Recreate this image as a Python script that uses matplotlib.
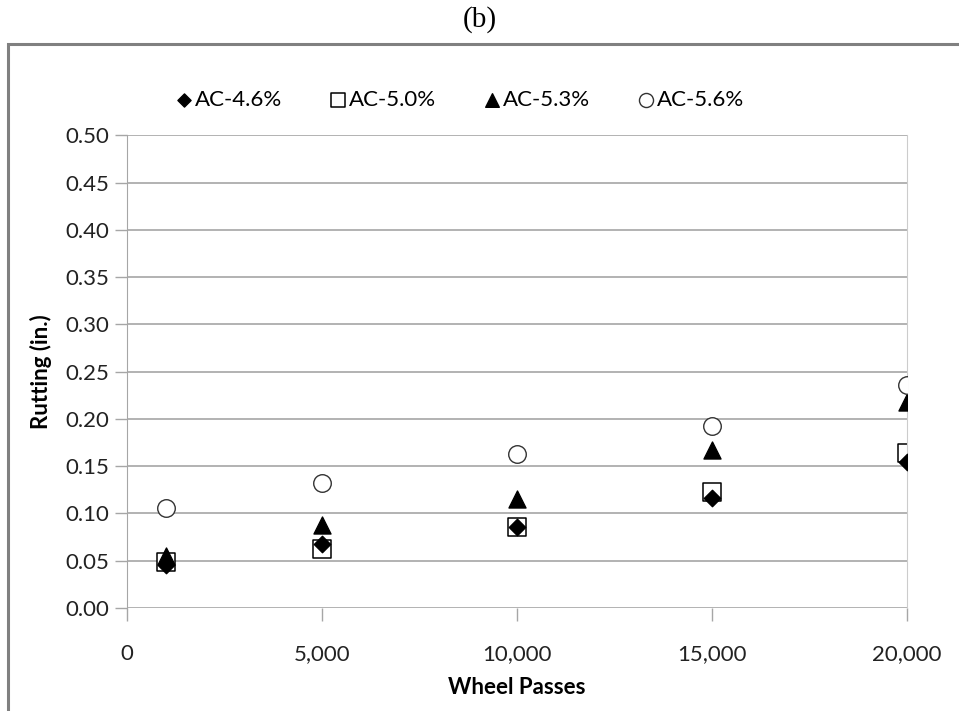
import matplotlib
matplotlib.use("Agg")
import matplotlib.pyplot as plt
from matplotlib.patches import Rectangle
from matplotlib.ticker import FuncFormatter

# Données (b)
wheel_passes = [1000, 5000, 10000, 15000, 20000]
ac_46 = [0.045, 0.068, 0.086, 0.116, 0.154]
ac_50 = [0.049, 0.062, 0.086, 0.123, 0.164]
ac_53 = [0.055, 0.088, 0.115, 0.167, 0.218]
ac_56 = [0.106, 0.132, 0.163, 0.192, 0.236]
series_labels = ["AC-4.6%", "AC-5.0%", "AC-5.3%", "AC-5.6%"]
x_ticks = [0, 5000, 10000, 15000, 20000]
y_ticks = [0.00, 0.05, 0.10, 0.15, 0.20, 0.25, 0.30, 0.35, 0.40, 0.45, 0.50]

FONT = ["Lato", "DejaVu Sans"]
GRID = "#a6a6a6"

fig = plt.figure(figsize=(9.59, 7.11), dpi=100)
ax = fig.add_axes([0.1324, 0.1449, 0.8134, 0.6648])

# cadre extérieur gris
fig.patches.append(Rectangle((0.0083, -0.05), 1.0, 1 - 44 / 711 + 0.05,
                             transform=fig.transFigure, fill=False,
                             edgecolor="#808080", lw=2.2, zorder=0))
fig.text(0.5, 0.973, "(b)", ha="center", va="center",
         family=["Liberation Serif", "DejaVu Serif"], fontsize=21)

ax.scatter(wheel_passes, ac_46, marker="D", s=70, color="black", zorder=3, label=series_labels[0])
ax.scatter(wheel_passes, ac_50, marker="s", s=150, facecolor="white", edgecolor="black",
           lw=1.1, zorder=2, label=series_labels[1])
ax.scatter(wheel_passes, ac_53, marker="^", s=150, color="black", zorder=4, label=series_labels[2])
ax.scatter(wheel_passes, ac_56, marker="o", s=160, facecolor="white", edgecolor="#333333",
           lw=1.0, zorder=5, label=series_labels[3])

ax.set_xlim(0, 20000)
ax.set_ylim(0, 0.5)
ax.set_xticks(x_ticks)
ax.set_yticks(y_ticks)
ax.xaxis.set_major_formatter(FuncFormatter(lambda v, p: f"{int(v):,}"))
ax.yaxis.set_major_formatter(FuncFormatter(lambda v, p: f"{v:.2f}"))
ax.grid(axis="y", color=GRID, lw=1.2)
ax.set_axisbelow(True)

for side in ["top", "bottom"]:
    ax.spines[side].set_visible(False)
ax.spines["left"].set_color(GRID)
ax.spines["right"].set_color("#cccccc")
ax.tick_params(axis="both", direction="out", length=9, color=GRID, width=1,
               labelsize=16, labelcolor="#222222")
ax.tick_params(axis="x", pad=17)
for lab in ax.get_xticklabels() + ax.get_yticklabels():
    lab.set_family(FONT)

ax.set_xlabel("Wheel Passes", family=FONT, fontsize=16, fontweight="bold", labelpad=9)
ax.set_ylabel("Rutting (in.)", family=FONT, fontsize=16, fontweight="bold", labelpad=10)

ax.legend(loc="center", bbox_to_anchor=(0.425, 1.074), ncol=4, frameon=False,
          prop={"family": FONT, "size": 16}, handletextpad=0.0, columnspacing=2.0,
          handlelength=1.0, scatterpoints=1, markerscale=0.8)

fig.savefig("out.png", dpi=100)
